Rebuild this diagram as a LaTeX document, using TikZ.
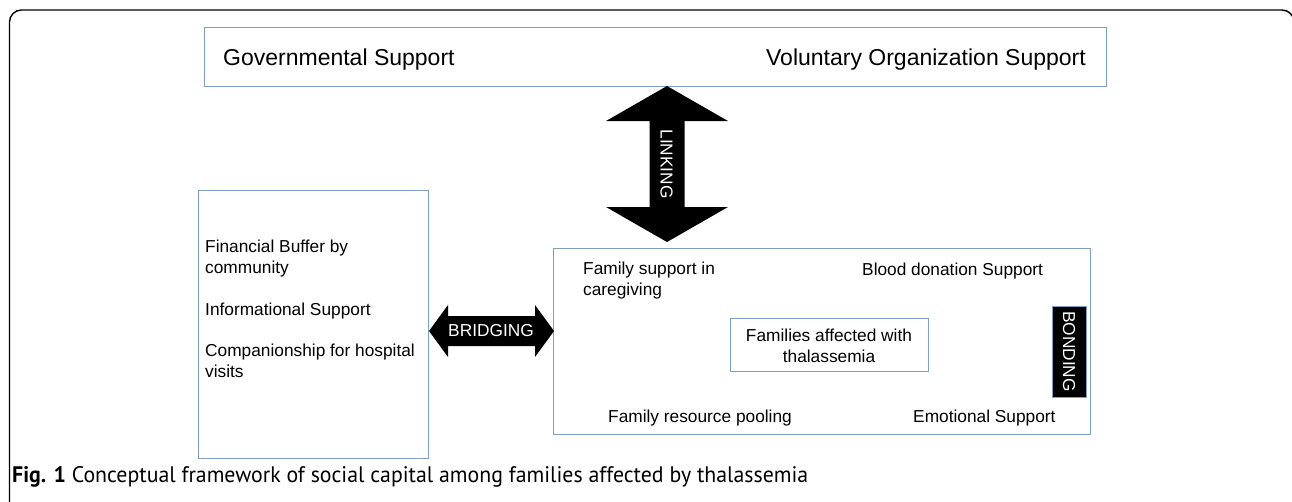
\documentclass[tikz,border=0pt]{standalone}
\usepackage{fontspec}
\setmainfont{Liberation Sans}
\newfontfamily\capfont{PT Sans}
\definecolor{boxblue}{RGB}{128,158,196}
\begin{document}
\begin{tikzpicture}[x=1pt,y=-1pt,
  bx/.style={draw=boxblue,line width=1.1pt,inner sep=0pt,anchor=north west},
  lbl/.style={inner sep=0pt,font=\fontsize{17.3}{20.7}\selectfont,align=left},
  big/.style={inner sep=0pt,font=\fontsize{23}{27}\selectfont},
  blockarrow/.style={fill=black},
  wlbl/.style={inner sep=0pt,text=white,font=\fontsize{17.3}{20}\selectfont}]
\useasboundingbox (0,0) rectangle (1292,501);
\fill[white] (0,0) rectangle (1292,501);
% outer frame
\draw[line width=1.4pt, rounded corners=12pt] (9.5,505) -- (9.5,10) -- (1294,10) -- (1294,505);
% boxes
\node[bx, minimum width=902pt, minimum height=59pt] (top) at (204,27) {};
\node[bx, minimum width=230pt, minimum height=268pt] (left) at (198,190) {};
\node[bx, minimum width=537pt, minimum height=186pt] (right) at (553,248) {};
\node[bx, minimum width=198pt, minimum height=52.5pt] (core) at (730,318) {};
\node[bx, fill=black, minimum width=34pt, minimum height=91pt] (bondbox) at (1052,306) {};
% top texts
\node[big, anchor=base west] (gov) at (223,65) {Governmental Support};
\node[big, anchor=base east] (vol) at (1086,65) {Voluntary Organization Support};
% linking arrow
\fill[blockarrow] (667,86) -- (728,121) -- (684.5,121) -- (684.5,207) -- (728,207) -- (667,242)
  -- (606,207) -- (649.5,207) -- (649.5,121) -- (606,121) -- cycle;
\node[wlbl, rotate=-90] (link) at (666.5,164) {LINKING};
% bridging arrow
\fill[blockarrow] (429,331) -- (448,305) -- (448,316) -- (535,316) -- (535,305) -- (554,331)
  -- (535,357) -- (535,346) -- (448,346) -- (448,357) -- cycle;
\node[wlbl] (bridge) at (491,331) {BRIDGING};
% bonding
\node[wlbl, rotate=-90] (bond) at (1069,351.5) {BONDING};
% left texts
\node[lbl, anchor=north west] (fin) at (205,240.1) {Financial Buffer by\\community};
\node[lbl, anchor=north west] (info) at (205,302.4) {Informational Support};
\node[lbl, anchor=north west] (comp) at (205,344.1) {Companionship for hospital\\visits};
% right texts
\node[lbl, anchor=north west] (famsup) at (583,261.7) {Family support in\\caregiving};
\node[lbl, anchor=base west] (blood) at (862,275) {Blood donation Support};
\node[lbl, anchor=center, align=center] (fam) at (829,346) {Families affected with\\thalassemia};
\node[lbl, anchor=base west] (pool) at (608,422) {Family resource pooling};
\node[lbl, anchor=base west] (emo) at (913,422) {Emotional Support};
% caption
\node[inner sep=0pt, anchor=base west] (cap) at (12,482)
  {\scalebox{0.97}[1]{\capfont\fontsize{22.5}{26}\selectfont\textbf{Fig. 1} Conceptual framework of social capital among families affected by thalassemia}};
\end{tikzpicture}
\end{document}
